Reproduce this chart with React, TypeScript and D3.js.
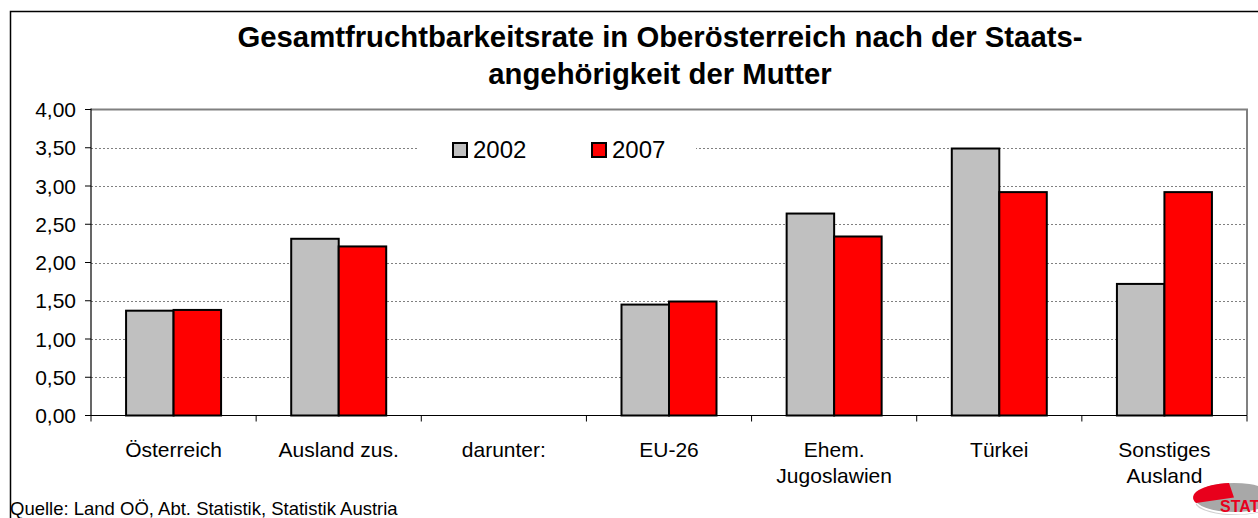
import React from "react";
import * as d3 from "d3";

const categories = ["Österreich", "Ausland zus.", "darunter:", "EU-26", "Ehem.\nJugoslawien", "Türkei", "Sonstiges\nAusland"];
const values2002: (number | null)[] = [1.37, 2.31, null, 1.45, 2.64, 3.49, 1.72];
const values2007: (number | null)[] = [1.38, 2.21, null, 1.49, 2.34, 2.92, 2.92];
const seriesNames = ["2002", "2007"];
const yTicks = [0, 0.5, 1, 1.5, 2, 2.5, 3, 3.5, 4];
const titleLines = ["Gesamtfruchtbarkeitsrate in Oberösterreich nach der Staats-", "angehörigkeit der Mutter"];
const sourceText = "Quelle: Land OÖ, Abt. Statistik, Statistik Austria";

const W = 1258, H = 518;
const plot = { left: 91, right: 1247, top: 109.5, bottom: 415.5 };
const colors = ["#C0C0C0", "#FF0000"];
const font = "'Liberation Sans', Arial, sans-serif";

export default function App() {
  const x = d3.scaleBand<string>().domain(categories).range([plot.left, plot.right]);
  const groupW = 95;
  const inner = d3.scaleBand<string>().domain(seriesNames).range([(x.bandwidth() - groupW) / 2, (x.bandwidth() + groupW) / 2]);
  const y = d3.scaleLinear().domain([0, 4]).range([plot.bottom, plot.top]);
  const fmt = (v: number) => d3.format(".2f")(v).replace(".", ",");
  const series = [values2002, values2007];
  return (
    <svg width={W} height={H} style={{ display: "block", position: "absolute", left: 0, top: 0 }} fontFamily={font}>
      <rect x={0} y={0} width={W} height={H} fill="#fff" />
      <path d={`M10.5,${H} V11.5 H${W}`} fill="none" stroke="#000" strokeWidth={1.5} />
      {titleLines.map((t, i) => (
        <text key={i} x={660} y={47 + i * 37} textAnchor="middle" fontSize={29.3} fontWeight="bold" fill="#000">{t}</text>
      ))}
      {yTicks.filter(t => t > 0 && t < 4).map(t => (
        <line key={t} x1={plot.left} x2={plot.right} y1={Math.round(y(t)) + 0.5} y2={Math.round(y(t)) + 0.5} stroke="#808080" strokeWidth={1} strokeDasharray="2,2" />
      ))}
      <path d={`M${plot.left},${plot.top} H${plot.right} V${plot.bottom}`} fill="none" stroke="#808080" strokeWidth={2} />
      <rect x={419} y={135} width={277} height={28} fill="#fff" />
      {seriesNames.map((s, i) => (
        <g key={s} transform={`translate(${452 + i * 139},142)`}>
          <rect x={1} y={1} width={14} height={14} fill={colors[i]} stroke="#000" strokeWidth={2} />
          <text x={21} y={16} fontSize={24} fill="#000">{s}</text>
        </g>
      ))}
      {categories.map((c, ci) => series.map((vals, si) => {
        const v = vals[ci];
        if (v == null) return null;
        const x0 = (x(c) as number) + (inner(seriesNames[si]) as number);
        return <rect key={c + si} x={x0} y={y(v)} width={inner.bandwidth()} height={y(0) - y(v)} fill={colors[si]} stroke="#000" strokeWidth={2} />;
      }))}
      <line x1={plot.left} x2={plot.left} y1={plot.top - 1} y2={plot.bottom} stroke="#000" strokeWidth={1.2} />
      <line x1={plot.left} x2={plot.right} y1={plot.bottom} y2={plot.bottom} stroke="#000" strokeWidth={1.2} />
      {yTicks.map(t => (
        <g key={t}>
          <line x1={plot.left - 6} x2={plot.left} y1={y(t)} y2={y(t)} stroke="#000" strokeWidth={1} />
          <text x={76} y={y(t) + 7.5} textAnchor="end" fontSize={21} fill="#000">{fmt(t)}</text>
        </g>
      ))}
      {d3.range(categories.length + 1).map(i => {
        const xx = plot.left + i * x.bandwidth();
        return <line key={i} x1={xx} x2={xx} y1={plot.bottom} y2={plot.bottom + 6} stroke="#000" strokeWidth={1} />;
      })}
      {categories.map(c => (
        <text key={c} textAnchor="middle" fontSize={21} fill="#000">
          {c.split("\n").map((l, li) => (
            <tspan key={li} x={(x(c) as number) + x.bandwidth() / 2} y={457 + li * 26}>{l}</tspan>
          ))}
        </text>
      ))}
      <text x={10} y={515} fontSize={18.5} fill="#000">{sourceText}</text>
      <g>
        <ellipse cx={1234} cy={497.5} rx={40} ry={14.5} fill="#a8a8a8" />
        <path d="M1234,497.5 L1229,483.1 A40,14.5 0 0,0 1196,503 Z" fill="#e8001c" />
        <path d="M1196,503 A40,14.5 0 0,0 1274,503 L1274,505 A40,13 0 0,1 1196,505 Z" fill="#d0d0d0" />
        <text x={1220} y={512} fontSize={16} fontWeight="900" fill="#e8001c">STAT</text>
      </g>
    </svg>
  );
}
